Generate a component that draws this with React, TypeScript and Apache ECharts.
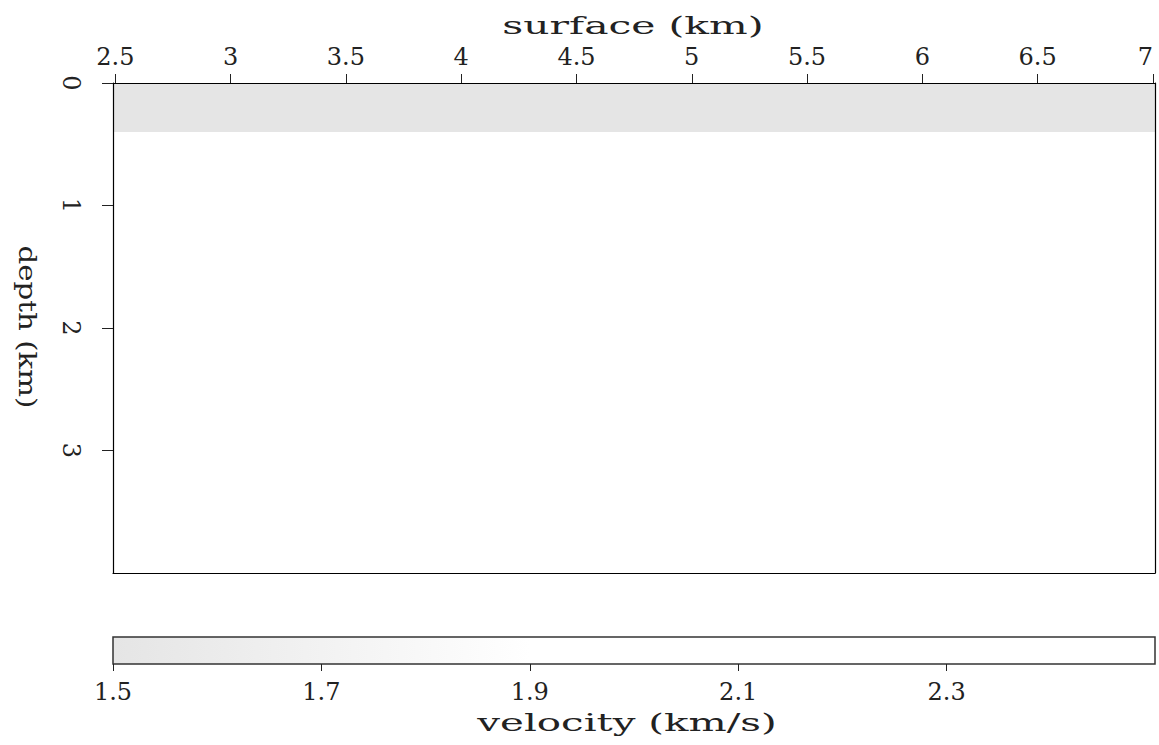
import React, { useEffect, useRef } from "react";
import * as echarts from "echarts";

// ---- data ----
const surfaceRange = [2.49, 7.009];
const depthRange = [0, 4];
const surfaceTicks = [2.5, 3, 3.5, 4, 4.5, 5, 5.5, 6, 6.5, 7];
const depthTicks = [0, 1, 2, 3];
const velocityRange = [1.5, 2.5];
const velocityTicks = [1.5, 1.7, 1.9, 2.1, 2.3];

// velocity layers: top depth, bottom depth, velocity
const layerTop = [0, 0.4];
const layerBottom = [0.4, 4];
const layerVelocity = [1.5, 2.5];

// colormap
const cmapValues = [1.5, 1.9, 2.5];
const cmapGray = [229, 255, 255];

const FONT = "DejaVu Serif";

function grayFor(v: number): string {
  let g = cmapGray[cmapGray.length - 1];
  if (v <= cmapValues[0]) g = cmapGray[0];
  else {
    for (let i = 0; i < cmapValues.length - 1; i++) {
      if (v >= cmapValues[i] && v <= cmapValues[i + 1]) {
        const t = (v - cmapValues[i]) / (cmapValues[i + 1] - cmapValues[i]);
        g = cmapGray[i] + t * (cmapGray[i + 1] - cmapGray[i]);
        break;
      }
    }
  }
  const c = Math.round(g);
  return `rgb(${c},${c},${c})`;
}

export default function App() {
  const ref = useRef<HTMLDivElement>(null);
  useEffect(() => {
    if (!ref.current) return;
    const chart = echarts.init(ref.current, null, { renderer: "svg" });

    const modelData = layerTop.map((t, i) => [
      surfaceRange[0],
      surfaceRange[1],
      t,
      layerBottom[i],
      layerVelocity[i],
    ]);

    const span = velocityRange[1] - velocityRange[0];
    const gradStops = cmapValues.map((v, i) => ({
      offset: Math.min(1, Math.max(0, (v - velocityRange[0]) / span)),
      color: `rgb(${cmapGray[i]},${cmapGray[i]},${cmapGray[i]})`,
    }));

    const labelStyle = {
      fontFamily: FONT,
      fontSize: 24,
      color: "#222",
    };

    const frameLine = { show: true, onZero: false, lineStyle: { color: "#000", width: 1.2 } };

    const option: any = {
      animation: false,
      backgroundColor: "#ffffff",
      grid: [
        { left: 113, width: 1042, top: 83, height: 490, show: false, containLabel: false, outerBoundsMode: "none" },
        { left: 113, width: 1042, top: 637, height: 27, show: false, containLabel: false, outerBoundsMode: "none" },
      ],
      xAxis: [
        {
          type: "value",
          gridIndex: 0,
          position: "top",
          min: surfaceRange[0],
          max: surfaceRange[1],
          z: 10,
          axisLine: frameLine,
          axisTick: {
            show: true,
            inside: false,
            length: 9,
            customValues: surfaceTicks,
            lineStyle: { color: "#222", width: 1 },
          },
          axisLabel: {
            show: true,
            margin: 14,
            customValues: surfaceTicks,
            alignMaxLabel: "right",
            ...labelStyle,
          },
          splitLine: { show: false },
        },
        {
          type: "value",
          gridIndex: 0,
          position: "bottom",
          min: surfaceRange[0],
          max: surfaceRange[1],
          z: 10,
          axisLine: frameLine,
          axisTick: { show: false },
          axisLabel: { show: false },
          splitLine: { show: false },
        },
        {
          type: "value",
          gridIndex: 1,
          position: "bottom",
          min: velocityRange[0],
          max: velocityRange[1],
          z: 10,
          axisLine: { show: false, onZero: false },
          axisTick: {
            show: true,
            inside: false,
            length: 7,
            customValues: velocityTicks,
            lineStyle: { color: "#222", width: 1 },
          },
          axisLabel: {
            show: true,
            margin: 16,
            customValues: velocityTicks,
            ...labelStyle,
          },
          splitLine: { show: false },
        },
      ],
      yAxis: [
        {
          type: "value",
          gridIndex: 0,
          inverse: true,
          min: depthRange[0],
          max: depthRange[1],
          position: "left",
          z: 10,
          axisLine: frameLine,
          axisTick: {
            show: true,
            inside: false,
            length: 11,
            customValues: depthTicks,
            lineStyle: { color: "#222", width: 1 },
          },
          axisLabel: {
            show: true,
            rotate: -90,
            margin: 30,
            customValues: depthTicks,
            ...labelStyle,
          },
          splitLine: { show: false },
        },
        {
          type: "value",
          gridIndex: 0,
          inverse: true,
          min: depthRange[0],
          max: depthRange[1],
          position: "right",
          z: 10,
          axisLine: frameLine,
          axisTick: { show: false },
          axisLabel: { show: false },
          splitLine: { show: false },
        },
        {
          type: "value",
          gridIndex: 1,
          min: 0,
          max: 1,
          show: false,
        },
      ],
      graphic: [
        {
          type: "text",
          x: 633,
          y: 26,
          scaleX: 1.7,
          style: {
            text: "surface (km)",
            font: `24px "${FONT}"`,
            fill: "#222",
            align: "center",
            verticalAlign: "middle",
          },
        },
        {
          type: "text",
          x: 28,
          y: 327,
          rotation: -Math.PI / 2,
          scaleX: 1.22,
          style: {
            text: "depth (km)",
            font: `24px "${FONT}"`,
            fill: "#222",
            align: "center",
            verticalAlign: "middle",
          },
        },
        {
          type: "text",
          x: 627,
          y: 723,
          scaleX: 1.68,
          style: {
            text: "velocity (km/s)",
            font: `24px "${FONT}"`,
            fill: "#222",
            align: "center",
            verticalAlign: "middle",
          },
        },
      ],
      series: [
        {
          type: "custom",
          xAxisIndex: 0,
          yAxisIndex: 0,
          data: modelData,
          encode: { x: [0, 1], y: [2, 3] },
          renderItem: (params: any, api: any) => {
            const p0 = api.coord([api.value(0), api.value(2)]);
            const p1 = api.coord([api.value(1), api.value(3)]);
            return {
              type: "rect",
              shape: {
                x: Math.min(p0[0], p1[0]),
                y: Math.min(p0[1], p1[1]),
                width: Math.abs(p1[0] - p0[0]),
                height: Math.abs(p1[1] - p0[1]),
              },
              style: { fill: grayFor(api.value(4)) },
            };
          },
        },
        {
          type: "custom",
          xAxisIndex: 2,
          yAxisIndex: 2,
          data: [[velocityRange[0], velocityRange[1]]],
          encode: { x: [0, 1] },
          renderItem: (params: any, api: any) => {
            const p0 = api.coord([api.value(0), 0]);
            const p1 = api.coord([api.value(1), 1]);
            return {
              type: "rect",
              shape: {
                x: Math.min(p0[0], p1[0]),
                y: Math.min(p0[1], p1[1]),
                width: Math.abs(p1[0] - p0[0]),
                height: Math.abs(p1[1] - p0[1]),
              },
              style: {
                fill: new echarts.graphic.LinearGradient(0, 0, 1, 0, gradStops),
                stroke: "#333",
                lineWidth: 1.5,
              },
            };
          },
        },
      ],
    };

    chart.setOption(option);
    return () => chart.dispose();
  }, []);

  return (
    <div
      ref={ref}
      style={{ position: "fixed", left: 0, top: 0, width: 1159, height: 745 }}
    />
  );
}
